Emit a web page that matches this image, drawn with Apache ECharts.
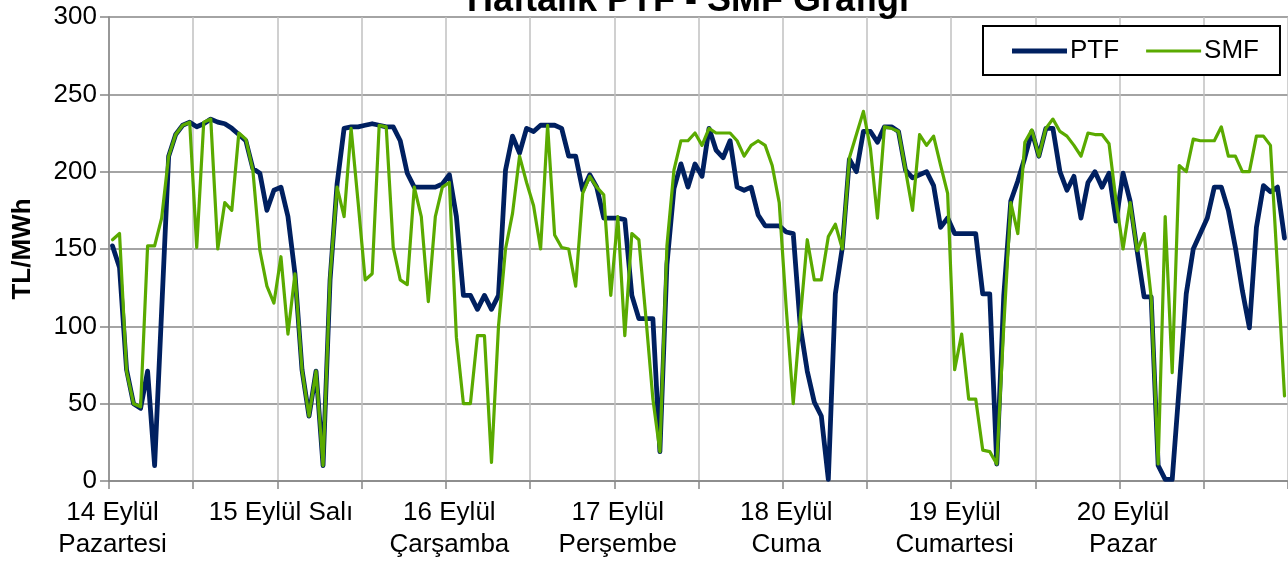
<!DOCTYPE html>
<html>
<head>
<meta charset="utf-8">
<script src="https://cdn.jsdelivr.net/npm/echarts@6/dist/echarts.min.js"></script>
<style>
html,body{margin:0;padding:0;background:#fff;}
#chart{width:1288px;height:563px;}
</style>
</head>
<body>
<div id="chart"></div>
<script>
// Day labels (one per 24 hourly categories)
const dayLabels = [
  "14 Eylül\nPazartesi",
  "15 Eylül Salı",
  "16 Eylül\nÇarşamba",
  "17 Eylül\nPerşembe",
  "18 Eylül\nCuma",
  "19 Eylül\nCumartesi",
  "20 Eylül\nPazar"
];
const hoursPerDay = 24;

// PTF (TL/MWh), hourly, 7 days
const ptf = [
  152,138,72,50,47,71,10,110,210,224,230,232,229,231,234,232,231,228,224,220,202,199,175,188,
  190,171,134,72,42,71,10,130,192,228,229,229,230,231,230,229,229,220,199,190,190,190,190,192,
  198,171,120,120,111,120,111,120,201,223,212,228,226,230,230,230,228,210,210,188,198,190,170,170,
  170,169,120,105,105,105,19,140,189,205,190,205,197,228,214,209,220,190,188,190,172,165,165,165,
  161,160,100,71,51,42,1,121,151,208,200,226,226,219,229,229,226,201,196,198,200,191,164,170,
  160,160,160,160,121,121,11,120,181,194,209,226,210,228,228,200,188,197,170,193,200,190,199,168,
  199,181,149,119,119,10,1,1,61,121,150,160,170,190,190,175,151,123,99,164,191,187,190,157
];

// SMF (TL/MWh), hourly, 7 days
const smf = [
  156,160,71,50,48,152,152,170,210,224,230,232,151,232,234,150,180,175,225,221,201,149,126,115,
  145,95,134,72,42,71,10,132,190,171,228,180,130,134,230,229,151,130,127,190,171,116,171,190,
  193,93,50,50,94,94,12,100,150,173,210,193,178,150,230,159,151,150,126,186,197,190,185,120,
  171,94,160,156,106,53,19,152,201,220,220,225,217,228,225,225,225,220,210,217,220,217,204,180,
  112,50,105,156,130,130,158,166,150,209,224,239,215,170,229,228,226,201,175,224,217,223,204,186,
  72,95,53,53,20,19,11,100,180,160,219,227,210,228,234,226,223,217,210,225,224,224,218,181,
  150,180,149,160,119,11,171,70,204,200,221,220,220,220,229,210,210,200,200,223,223,217,138,55
];

const categories = ptf.map((_, i) => String(i));
const yTicks = { min: 0, max: 300, interval: 50 };

const PTF_COLOR = '#002060';
const SMF_COLOR = '#5aaa00';
const FONT = "'Liberation Sans', Arial, sans-serif";
// legend line icons (thin band inside a 55x14 box; zero-area points keep the box)
const iconPTF = 'path://M0,0L0.01,0Z M0,4.5L55,4.5L55,9.5L0,9.5Z M0,14L0.01,14Z';
const iconSMF = 'path://M0,0L0.01,0Z M0,5.4L55,5.4L55,8.6L0,8.6Z M0,14L0.01,14Z';

const chart = echarts.init(document.getElementById('chart'), null, { renderer: 'canvas' });

chart.setOption({
  animation: false,
  backgroundColor: '#ffffff',
  textStyle: { fontFamily: FONT },
  title: {
    text: 'Haftalık PTF - SMF Grafiği',
    left: 467,
    top: -17,
    padding: 0,
    textStyle: { fontFamily: FONT, fontSize: 36, fontWeight: 'bold', color: '#000' }
  },
  legend: {
    data: [
      { name: 'PTF', icon: iconPTF, itemStyle: { color: PTF_COLOR, borderWidth: 0 } },
      { name: 'SMF', icon: iconSMF, itemStyle: { color: SMF_COLOR, borderWidth: 0 } }
    ],
    left: 983,
    top: 26,
    padding: [12, 21, 11, 29],
    itemGap: 27,
    itemWidth: 55,
    itemHeight: 14,
    borderColor: '#000',
    borderWidth: 2,
    backgroundColor: '#fff',
    textStyle: { fontFamily: FONT, fontSize: 26, color: '#000', padding: [0, 0, 0, -2] }
  },
  grid: { left: 109, top: 17, width: 1184, height: 464, containLabel: false },
  xAxis: {
    type: 'category',
    data: categories,
    boundaryGap: true,
    axisLine: { show: true, lineStyle: { color: '#868686', width: 1.5 } },
    axisTick: { show: true, interval: 11, length: 8, lineStyle: { color: '#868686', width: 1.5 } },
    splitLine: { show: true, interval: 11, lineStyle: { color: '#c0c0c0', width: 1.5 } },
    axisLabel: {
      interval: hoursPerDay - 1,
      margin: 16,
      fontFamily: FONT,
      fontSize: 26,
      lineHeight: 32,
      color: '#000',
      formatter: function (value, index) {
        return index % hoursPerDay === 0 ? dayLabels[index / hoursPerDay] : '';
      }
    }
  },
  yAxis: {
    type: 'value',
    min: yTicks.min,
    max: yTicks.max,
    interval: yTicks.interval,
    name: 'TL/MWh',
    nameLocation: 'middle',
    nameGap: 73,
    nameTextStyle: { fontFamily: FONT, fontSize: 26, fontWeight: 'bold', color: '#000' },
    axisLine: { show: true, lineStyle: { color: '#868686', width: 1.5 } },
    axisTick: { show: true, length: 9, lineStyle: { color: '#868686', width: 1.5 } },
    splitLine: { show: true, lineStyle: { color: '#868686', width: 1.5 } },
    axisLabel: { margin: 12, fontFamily: FONT, fontSize: 26, color: '#000' }
  },
  series: [
    {
      name: 'PTF',
      type: 'line',
      data: ptf,
      symbol: 'none',
      lineStyle: { color: PTF_COLOR, width: 4.8, cap: 'round', join: 'round' },
      itemStyle: { color: PTF_COLOR },
      z: 2
    },
    {
      name: 'SMF',
      type: 'line',
      data: smf,
      symbol: 'none',
      lineStyle: { color: SMF_COLOR, width: 3.2, cap: 'round', join: 'round' },
      itemStyle: { color: SMF_COLOR },
      z: 3
    }
  ]
});
</script>
</body>
</html>
